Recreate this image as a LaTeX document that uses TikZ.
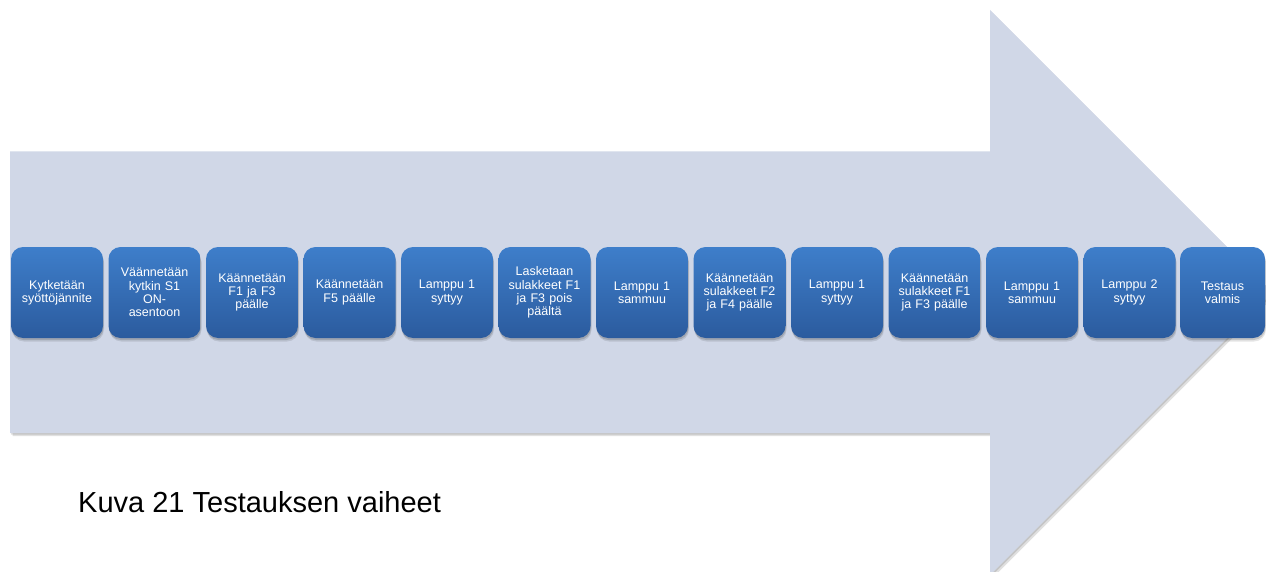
\documentclass[tikz,border=0pt]{standalone}
\usepackage{fontspec}
\setmainfont{Liberation Sans}
\definecolor{arrowfill}{RGB}{208,215,231}
\definecolor{boxtop}{RGB}{62,126,202}
\definecolor{boxbot}{RGB}{43,91,158}
\tikzset{
  stepbox/.style={rounded corners=12pt, top color=boxtop, bottom color=boxbot,
    minimum width=92pt, minimum height=91pt, text width=88pt, align=center,
    text=white, font=\fontsize{12.5}{13.3}\selectfont, inner sep=0pt,
    preaction={fill=black, fill opacity=0.10, transform canvas={shift={(1pt,-3.5pt)}}},
    preaction={fill=black, fill opacity=0.14, transform canvas={shift={(0.5pt,-2pt)}}}},
  caption/.style={anchor=base west, font=\fontsize{29}{34}\selectfont, inner sep=0pt}
}
\begin{document}
\begin{tikzpicture}[x=1pt,y=-1pt]
\useasboundingbox (0,0) rectangle (1266,572);
\clip (0,0) rectangle (1266,572);
% arrow shadow
\begin{scope}[shift={(2.5,3)}]
\fill[black, opacity=0.12] (10,151.5) -- (990,151.5) -- (990,10) -- (1272.5,292.5) -- (990,575) -- (990,433) -- (10,433) -- cycle;
\end{scope}
\begin{scope}[shift={(1,1.5)}]
\fill[black, opacity=0.12] (10,151.5) -- (990,151.5) -- (990,10) -- (1272.5,292.5) -- (990,575) -- (990,433) -- (10,433) -- cycle;
\end{scope}
\fill[arrowfill] (10,151.5) -- (990,151.5) -- (990,10) -- (1272.5,292.5) -- (990,575) -- (990,433) -- (10,433) -- cycle;
% steps
\node[stepbox] (s1)  at (57,292.5)    {Kytketään\\syöttöjännite};
\node[stepbox] (s2)  at (154.5,292.5) {Väännetään\\kytkin S1\\ON-\\asentoon};
\node[stepbox] (s3)  at (252,292.5)   {Käännetään\\F1 ja F3\\päälle};
\node[stepbox] (s4)  at (349.5,292.5) {Käännetään\\F5 päälle};
\node[stepbox] (s5)  at (447,292.5)   {Lamppu 1\\syttyy};
\node[stepbox] (s6)  at (544.5,292.5) {Lasketaan\\sulakkeet F1\\ja F3 pois\\päältä};
\node[stepbox] (s7)  at (642,292.5)   {Lamppu 1\\sammuu};
\node[stepbox] (s8)  at (739.5,292.5) {Käännetään\\sulakkeet F2\\ja F4 päälle};
\node[stepbox] (s9)  at (837,292.5)   {Lamppu 1\\syttyy};
\node[stepbox] (s10) at (934.5,292.5) {Käännetään\\sulakkeet F1\\ja F3 päälle};
\node[stepbox] (s11) at (1032,292.5)  {Lamppu 1\\sammuu};
\node[stepbox] (s12) at (1129.5,292.5){Lamppu 2\\syttyy};
\node[stepbox, minimum width=85pt, text width=81pt] (s13) at (1222.5,292.5) {Testaus\\valmis};
% caption
\node[caption] (cap) at (78,512) {Kuva 21 Testauksen vaiheet};
\end{tikzpicture}
\end{document}
